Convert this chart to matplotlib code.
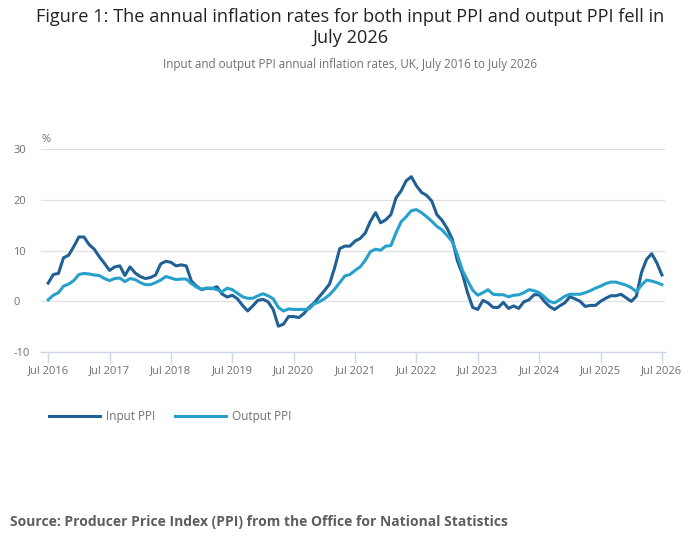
import numpy as np
import matplotlib.pyplot as plt

plt.rcParams['font.family'] = ['Open Sans', 'DejaVu Sans']
plt.rcParams['axes.unicode_minus'] = False

# monthly values, Jul 2016 .. Jul 2026
input_ppi = [3.6, 5.3, 5.5, 8.6, 9.1, 10.8, 12.7, 12.7, 11.2, 10.3, 8.8, 7.5,
             6.1, 6.8, 7.0, 5.1, 6.8, 5.6, 4.9, 4.5, 4.7, 5.2, 7.4, 7.9,
             7.7, 7.0, 7.2, 7.0, 4.0, 3.0, 2.3, 2.6, 2.5, 2.9, 1.45, 0.85,
             1.2, 0.5, -0.8, -1.9, -0.9, 0.2, 0.4, -0.1, -1.6, -4.9, -4.5, -3.0,
             -3.0, -3.2, -2.4, -1.2, -0.3, 0.9, 2.1, 3.4, 6.6, 10.4, 10.9, 10.9,
             11.9, 12.4, 13.5, 15.8, 17.5, 15.5, 16.1, 17.1, 20.4, 21.8, 23.8, 24.6,
             22.8, 21.5, 20.9, 19.8, 17.1, 16.0, 14.4, 12.3, 8.0, 5.4, 1.7, -1.2,
             -1.6, 0.2, -0.3, -1.2, -1.2, -0.2, -1.4, -0.9, -1.4, -0.1, 0.3, 1.3,
             1.3, 0.0, -1.0, -1.6, -0.9, -0.3, 0.9, 0.5, 0.0, -1.0, -0.8, -0.8,
             0.0, 0.6, 1.1, 1.1, 1.4, 0.7, 0.0, 1.0, 5.7, 8.3, 9.4, 7.6,
             5.2]
output_ppi = [0.3, 1.2, 1.7, 3.0, 3.4, 4.1, 5.3, 5.5, 5.4, 5.2, 5.1, 4.5,
              4.1, 4.5, 4.6, 3.9, 4.5, 4.3, 3.7, 3.3, 3.3, 3.7, 4.2, 4.9,
              4.6, 4.3, 4.4, 4.4, 3.5, 2.8, 2.4, 2.6, 2.6, 2.3, 1.9, 2.6,
              2.3, 1.6, 0.9, 0.6, 0.6, 1.1, 1.5, 1.1, 0.5, -1.2, -1.9, -1.5,
              -1.6, -1.6, -1.6, -1.5, -0.5, -0.1, 0.5, 1.3, 2.4, 3.7, 5.0, 5.3,
              6.1, 6.8, 8.1, 9.8, 10.3, 10.1, 10.9, 11.0, 13.5, 15.7, 16.7, 17.9,
              18.1, 17.5, 16.7, 15.8, 14.8, 14.1, 13.0, 11.8, 9.2, 6.1, 4.1, 2.2,
              1.2, 1.7, 2.3, 1.4, 1.3, 1.3, 0.9, 1.2, 1.3, 1.7, 2.3, 2.1,
              1.7, 0.9, 0.0, -0.3, 0.3, 1.0, 1.4, 1.4, 1.4, 1.7, 2.1, 2.6,
              3.0, 3.5, 3.8, 3.8, 3.5, 3.2, 2.7, 1.9, 3.2, 4.2, 4.0, 3.7,
              3.3]
tick_labels = ['Jul 2016', 'Jul 2017', 'Jul 2018', 'Jul 2019', 'Jul 2020', 'Jul 2021',
               'Jul 2022', 'Jul 2023', 'Jul 2024', 'Jul 2025', 'Jul 2026']

months = np.arange(len(input_ppi))
grey = '#707070'

fig = plt.figure(figsize=(7, 5.49), dpi=100)
ax = fig.add_axes([0.0586, 0.3588, 0.8914, 0.3692])

ax.plot(months, input_ppi, color='#206095', lw=2.2, label='Input PPI', zorder=3)
ax.plot(months, output_ppi, color='#27a0cc', lw=2.2, label='Output PPI', zorder=3)

ax.set_xlim(-1.4, 120.6)
ax.set_ylim(-10, 30)
ax.set_yticks([-10, 0, 10, 20, 30])
ax.set_xticks(np.arange(0, 121, 12))
ax.set_xticklabels(tick_labels)
ax.grid(axis='y', color='#e0e0e0', lw=0.9)
ax.set_axisbelow(True)
for s in ['top', 'right', 'left']:
    ax.spines[s].set_visible(False)
ax.spines['bottom'].set_color('#ccd6e8')
ax.spines['bottom'].set_linewidth(1.0)
ax.tick_params(axis='x', colors='#ccd6e8', labelcolor=grey, labelsize=8, length=8, width=1, pad=1.5)
ax.tick_params(axis='y', labelcolor=grey, labelsize=8, length=0, pad=20)
for t in ax.get_yticklabels():
    t.set_horizontalalignment('left')
ax.text(0, 1.02, '%', transform=ax.transAxes, ha='left', va='bottom', fontsize=8, color=grey)

fig.text(0.5, 0.985, 'Figure 1: The annual inflation rates for both input PPI and output PPI fell in\nJuly 2026',
         ha='center', va='top', fontsize=13.1, color='#222222', linespacing=1.2)
fig.text(0.5, 0.883, 'Input and output PPI annual inflation rates, UK, July 2016 to July 2026',
         ha='center', va='center', fontsize=8.4, color=grey)

fig.legend(loc='center left', bbox_to_anchor=(0.055, 0.242), ncol=2, frameon=False,
           fontsize=8.5, labelcolor=grey, handlelength=4.3, handletextpad=0.5, columnspacing=1.7)

fig.text(0.014, 0.049, 'Source: Producer Price Index (PPI) from the Office for National Statistics',
         ha='left', va='center', fontsize=10, fontweight='bold', color='#5e5e5e')

fig.savefig('out.png', dpi=100)
